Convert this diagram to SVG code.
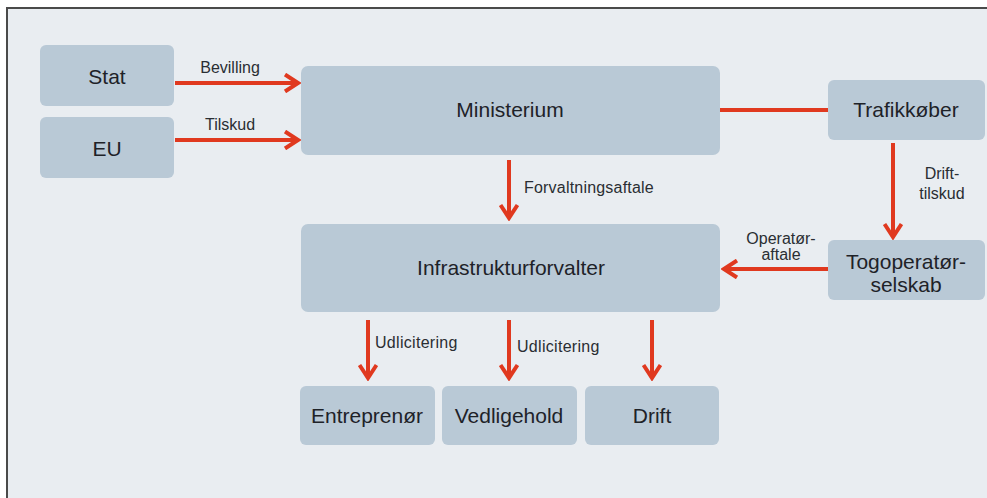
<svg xmlns="http://www.w3.org/2000/svg" width="987" height="498" viewBox="0 0 987 498">
<defs>
<style>
.box{fill:#b9c9d6;}
.nt{font-family:"Liberation Sans",Arial,sans-serif;font-size:21px;fill:#1e2228;text-anchor:middle;}
.lt{font-family:"Liberation Sans",Arial,sans-serif;font-size:16px;fill:#2a2e33;}
.ln{stroke:#e0391f;stroke-width:4;fill:none;}
</style>
<marker id="ah" viewBox="0 0 18 20" refX="15" refY="10" markerWidth="18" markerHeight="20" markerUnits="userSpaceOnUse" orient="auto">
<path d="M2,1.5 L15,10 L2,18.5" fill="none" stroke="#e0391f" stroke-width="4"/>
</marker>
</defs>
<rect x="0" y="0" width="987" height="498" fill="#ffffff"/>
<rect x="7" y="8" width="990" height="500" fill="#e9edf1"/>
<path d="M7,498 V8 H987" fill="none" stroke="#4a4a4a" stroke-width="2"/>

<g id="connectors">
<line class="ln" x1="175" y1="83" x2="298" y2="83" marker-end="url(#ah)"/>
<line class="ln" x1="175" y1="140" x2="298" y2="140" marker-end="url(#ah)"/>
<line class="ln" x1="720" y1="110" x2="828" y2="110"/>
<line class="ln" x1="893" y1="143" x2="893" y2="237" marker-end="url(#ah)"/>
<line class="ln" x1="828" y1="269" x2="724" y2="269" marker-end="url(#ah)"/>
<line class="ln" x1="509" y1="160" x2="509" y2="218" marker-end="url(#ah)"/>
<line class="ln" x1="368" y1="320" x2="368" y2="378" marker-end="url(#ah)"/>
<line class="ln" x1="509" y1="320" x2="509" y2="378" marker-end="url(#ah)"/>
<line class="ln" x1="652" y1="320" x2="652" y2="378" marker-end="url(#ah)"/>
<text class="lt" x="230" y="73" text-anchor="middle" font-size="17">Bevilling</text>
<text class="lt" x="230" y="130" text-anchor="middle" font-size="17">Tilskud</text>
<text class="lt" x="942" y="179" text-anchor="middle">Drift-</text>
<text class="lt" x="942" y="199" text-anchor="middle">tilskud</text>
<text class="lt" x="781" y="244" text-anchor="middle">Operatør-</text>
<text class="lt" x="781" y="260" text-anchor="middle">aftale</text>
<text class="lt" x="524" y="193" font-size="17" letter-spacing="0.2">Forvaltningsaftale</text>
<text class="lt" x="375" y="348" font-size="17" letter-spacing="0.3">Udlicitering</text>
<text class="lt" x="517" y="352" font-size="17" letter-spacing="0.3">Udlicitering</text>
</g>

<g id="stat"><rect class="box" x="40" y="45" width="134" height="61" rx="6"/><text class="nt" x="107" y="84">Stat</text></g>
<g id="eu"><rect class="box" x="40" y="117" width="134" height="61" rx="6"/><text class="nt" x="107" y="156">EU</text></g>
<g id="ministerium"><rect class="box" x="301" y="66" width="419" height="89" rx="7"/><text class="nt" x="510" y="117">Ministerium</text></g>
<g id="trafikkoeber"><rect class="box" x="828" y="80" width="157" height="60" rx="6"/><text class="nt" x="906" y="117">Trafikkøber</text></g>
<g id="togoperatoer"><rect class="box" x="828" y="240" width="157" height="60" rx="6"/><text class="nt" x="906" y="269">Togoperatør-</text><text class="nt" x="906" y="292">selskab</text></g>
<g id="infrastrukturforvalter"><rect class="box" x="301" y="224" width="419" height="88" rx="7"/><text class="nt" x="511" y="275">Infrastrukturforvalter</text></g>
<g id="entreprenoer"><rect class="box" x="300" y="386" width="135" height="59" rx="6"/><text class="nt" x="367" y="423">Entreprenør</text></g>
<g id="vedligehold"><rect class="box" x="442" y="386" width="135" height="59" rx="6"/><text class="nt" x="509" y="423">Vedligehold</text></g>
<g id="drift"><rect class="box" x="585" y="386" width="134" height="59" rx="6"/><text class="nt" x="652" y="423">Drift</text></g>
</svg>
